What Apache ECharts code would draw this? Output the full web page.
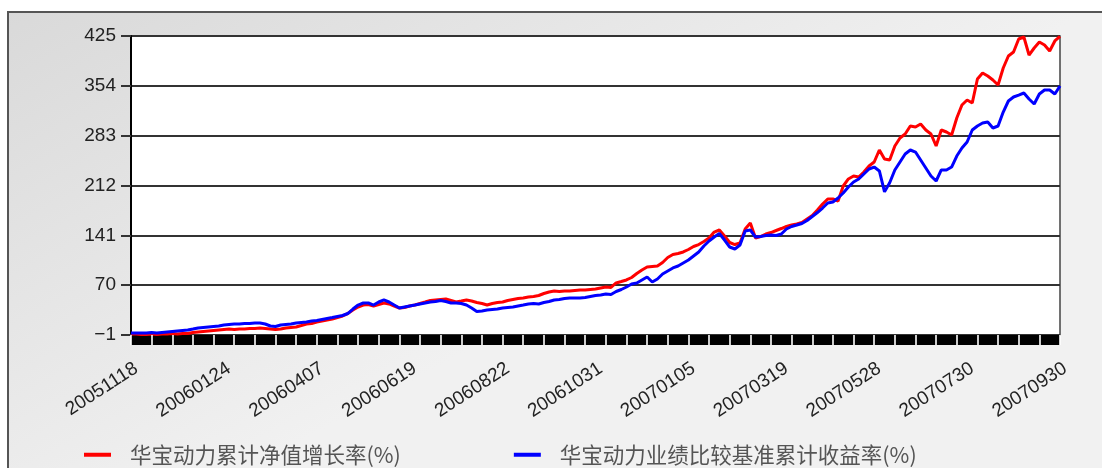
<!DOCTYPE html>
<html>
<head>
<meta charset="utf-8">
<script src="https://cdn.jsdelivr.net/npm/echarts@6/dist/echarts.min.js"></script>
<style>
html,body{margin:0;padding:0;background:#fff;}
#chart{width:1102px;height:468px;}
</style>
</head>
<body>
<div id="chart"></div>
<script>
// Labelled dates on the x axis (every 18th category)
const tickDates = ['20051118','20060124','20060407','20060619','20060822','20061031','20070105','20070319','20070528','20070730','20070930'];
const STEPS = 18;

// Y axis ticks
const yMin = -1, yMax = 425, yStep = 71;

// Series names
const redName = '华宝动力累计净值增长率(%)';
const blueName = '华宝动力业绩比较基准累计收益率(%)';

// 华宝动力累计净值增长率 (%)
const redValues = [
0.4,0.4,-0.3,-0.3,0.4,-0.3,0.4,0.4,1.1,0.4,
1.1,1.1,2.6,3.3,4.0,4.7,5.4,6.1,6.8,7.5,
6.8,7.5,7.5,8.3,8.3,9.0,8.3,7.5,6.8,7.5,
9.0,9.7,10.4,12.5,14.7,15.4,17.5,18.9,20.4,21.8,
23.9,26.1,29.6,34.6,38.9,41.7,42.5,40.3,42.5,44.6,
43.2,40.3,37.5,38.2,40.3,41.7,43.9,46.0,48.2,48.9,
49.6,50.3,48.2,46.0,47.4,48.9,47.4,45.3,43.9,41.7,
43.9,45.3,46.0,48.2,49.6,51.0,51.7,53.1,53.9,55.3,
58.1,60.3,61.7,61.0,61.7,61.7,62.4,63.1,63.1,63.8,
64.5,66.0,67.4,66.7,73.1,75.2,77.4,80.9,86.6,91.6,
95.9,96.6,97.3,102.3,109.4,113.7,115.1,117.3,120.8,125.1,
127.9,132.2,137.2,145.7,148.6,140.0,130.8,127.9,130.1,150.0,
158.6,137.2,139.3,142.9,145.0,147.9,150.7,153.6,155.7,157.1,
159.3,164.3,169.3,177.1,185.6,192.8,192.8,189.9,211.3,221.3,
225.5,224.1,231.2,239.8,245.5,262.6,249.7,248.3,268.3,279.7,
285.4,296.8,295.3,299.6,291.1,285.4,268.3,291.1,288.2,283.9,
308.2,326.7,333.8,329.5,363.7,372.3,368.0,362.3,355.2,379.4,
396.5,402.2,420.7,423.6,397.9,407.9,416.4,412.2,403.6,417.9,
424.5
];

// 华宝动力业绩比较基准累计收益率 (%)
const blueValues = [
1.8,1.8,1.8,1.8,2.6,1.8,2.6,3.3,4.0,4.7,
5.4,6.1,7.5,9.0,9.7,10.4,11.1,11.8,13.2,14.0,
14.7,14.7,15.4,15.4,16.1,16.1,14.7,11.8,11.1,13.2,
14.0,14.7,16.1,16.8,17.5,18.9,19.7,21.1,22.5,23.9,
25.4,26.8,29.6,36.0,41.7,44.6,44.6,41.7,46.0,48.9,
46.0,41.7,37.5,38.9,40.3,41.7,43.2,44.6,46.0,46.7,
48.2,46.7,44.6,44.6,43.9,41.7,37.5,32.5,33.2,34.6,
35.3,36.0,37.5,38.2,38.9,40.3,41.7,43.2,43.9,43.2,
45.3,46.7,48.9,49.6,51.0,51.7,51.7,51.7,52.4,53.9,
55.3,56.0,57.4,56.7,61.0,63.8,67.4,71.7,73.1,77.4,
81.6,74.5,78.8,85.9,90.2,94.5,97.3,101.6,105.9,111.6,
117.3,125.8,132.9,138.6,143.6,134.3,124.4,121.5,127.2,147.2,
148.6,138.6,139.3,140.8,141.5,140.8,142.9,150.0,153.6,155.7,
157.9,162.1,167.8,173.5,179.9,187.1,188.5,194.2,201.3,209.9,
217.0,221.3,228.4,235.5,238.3,232.7,203.0,216.0,234.1,245.5,
256.9,262.6,259.7,248.3,236.9,225.5,218.4,234.1,234.1,238.3,
254.0,265.4,274.0,291.1,296.8,301.0,302.5,293.9,296.8,316.7,
332.4,338.1,340.9,343.8,335.2,328.1,342.4,348.1,348.1,342.4,
353.8
];

// Build category dates between labelled dates
function parseD(s){ return Date.UTC(+s.slice(0,4), +s.slice(4,6)-1, +s.slice(6,8)); }
function fmtD(t){ const d = new Date(t); return d.getUTCFullYear() + String(d.getUTCMonth()+1).padStart(2,'0') + String(d.getUTCDate()).padStart(2,'0'); }
const categories = [];
for (let i = 0; i < tickDates.length - 1; i++) {
  const a = parseD(tickDates[i]), b = parseD(tickDates[i+1]);
  const days = Math.round((b - a) / 864e5);
  for (let k = 0; k < STEPS; k++) {
    categories.push(k === 0 ? tickDates[i] : fmtD(a + Math.round(days * k / STEPS) * 864e5));
  }
}
categories.push(tickDates[tickDates.length - 1]);

const chart = echarts.init(document.getElementById('chart'), null, {renderer: 'canvas'});
const option = {
  animation: false,
  backgroundColor: '#ffffff',
  graphic: [{
    type: 'rect', z: -100, silent: true,
    shape: {x: 8, y: 12, width: 1200, height: 600},
    style: {
      fill: {type: 'linear', x: 0, y: 12, x2: 250, y2: 470, global: true,
        colorStops: [{offset: 0, color: '#d9d9d9'}, {offset: 1, color: '#f1f1f1'}]},
      stroke: '#555555', lineWidth: 2
    }
  }],
  grid: {
    left: 131, right: 42, top: 36, bottom: 133,
    show: true, backgroundColor: '#ffffff', borderColor: '#444444', borderWidth: 1.5
  },
  legend: {
    left: 79, top: 439,
    icon: 'rect', itemWidth: 27, itemHeight: 4, itemGap: 113,
    textStyle: {fontFamily: '"Noto Sans CJK SC", sans-serif', fontSize: 21.5, color: '#555555', padding: [0, 0, 0, 14]},
    data: [redName, blueName]
  },
  xAxis: [{
    type: 'category', data: categories, boundaryGap: false, position: 'bottom', offset: 5, z: 1,
    axisLine: {show: true, onZero: false, lineStyle: {color: '#000000', width: 10, cap: 'butt'}},
    axisTick: {show: false},
    axisLabel: {
      interval: STEPS - 1, rotate: 33, margin: 19, verticalAlign: 'top',
      fontFamily: '"Liberation Sans", Arial, sans-serif', fontSize: 19, color: '#222222'
    },
    splitLine: {show: false}
  }, {
    type: 'category', data: categories, boundaryGap: false, position: 'bottom', offset: 0, z: 10,
    axisLine: {show: false, onZero: false},
    axisTick: {show: true, interval: 3, length: 10, lineStyle: {color: '#ffffff', width: 1.6}},
    axisLabel: {show: false},
    splitLine: {show: false}
  }],
  yAxis: {
    type: 'value', min: yMin, max: yMax, interval: yStep,
    axisLine: {show: true, lineStyle: {color: '#000000', width: 2}},
    axisTick: {show: true, length: 10, lineStyle: {color: '#333333', width: 2}},
    axisLabel: {
      margin: 15, fontFamily: '"Liberation Sans", Arial, sans-serif', fontSize: 19, color: '#222222',
      formatter: v => String(v).replace('-', '\u2212')
    },
    splitLine: {show: true, lineStyle: {color: '#333333', width: 2}}
  },
  series: [{
    name: redName, type: 'line', data: redValues, showSymbol: false, symbol: 'none',
    xAxisIndex: 0, color: '#ff0000', lineStyle: {color: '#ff0000', width: 3}
  }, {
    name: blueName, type: 'line', data: blueValues, showSymbol: false, symbol: 'none',
    xAxisIndex: 0, color: '#0000ff', lineStyle: {color: '#0000ff', width: 3}
  }]
};
chart.setOption(option);
</script>
</body>
</html>
